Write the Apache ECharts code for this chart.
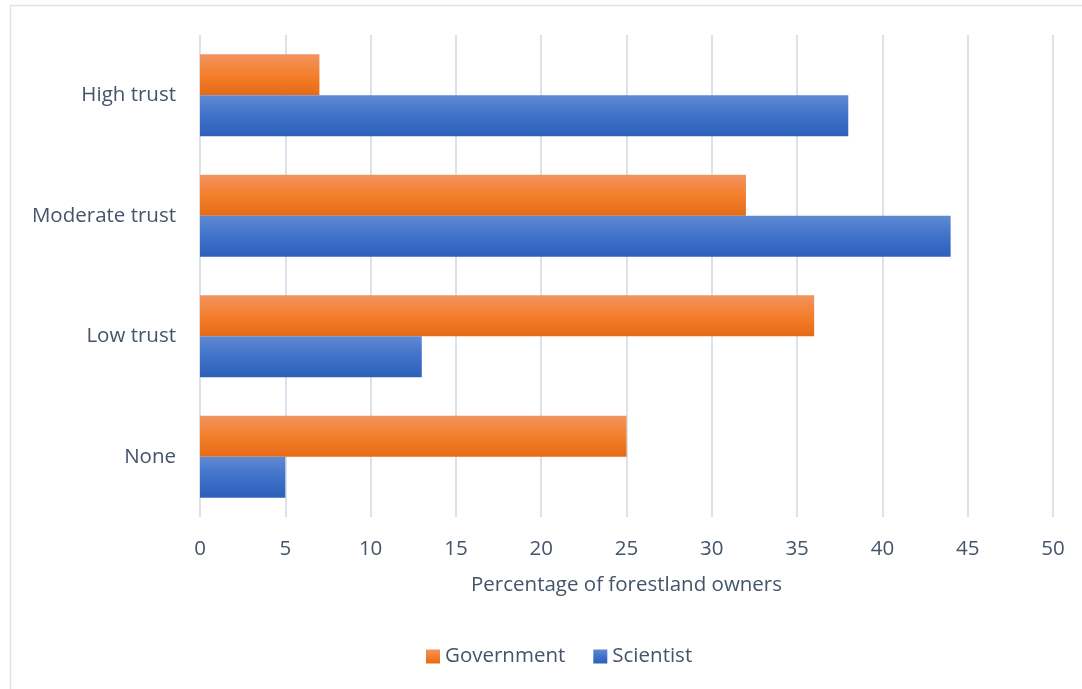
<!DOCTYPE html>
<html>
<head>
<meta charset="utf-8">
<script src="https://cdn.jsdelivr.net/npm/echarts@6/dist/echarts.min.js"></script>
<style>
  html, body { margin: 0; padding: 0; background: #fff; }
  #chart { width: 1082px; height: 689px; }
</style>
</head>
<body>
<div id="chart"></div>
<script>
// Trust levels shown on the category axis, top to bottom
const categories = ['High trust', 'Moderate trust', 'Low trust', 'None'];
// Percentage of forestland owners per trust level
const government = [7, 32, 36, 25];
const scientist = [38, 44, 13, 5];
const xTicks = { min: 0, max: 50, interval: 5 };

const textColor = '#44546A';
const font = '"Open Sans", sans-serif';
const fontSize = 20.5;

function grad(top, mid, bottom) {
  return new echarts.graphic.LinearGradient(0, 0, 0, 1, [
    { offset: 0, color: top },
    { offset: 0.5, color: mid },
    { offset: 1, color: bottom }
  ]);
}
const orange = grad('#F29360', '#F47F2C', '#E56A16');
const blue = grad('#6089D3', '#3F72C9', '#2C60B9');

const chart = echarts.init(document.getElementById('chart'), null, { renderer: 'canvas' });
chart.setOption({
  backgroundColor: '#fff',
  animation: false,
  graphic: [{
    type: 'rect',
    shape: { x: 10.5, y: 5.5, width: 1200, height: 800 },
    style: { fill: 'none', stroke: '#DCE1EA', lineWidth: 1.5 },
    z: -1
  }],
  grid: { left: 200, right: 29, top: 35, bottom: 172, containLabel: false },
  legend: {
    bottom: 17,
    left: 421,
    itemWidth: 14,
    itemHeight: 14,
    itemGap: 28,
    icon: 'rect',
    textStyle: { color: textColor, fontSize: fontSize, fontFamily: font },
    data: ['Government', 'Scientist']
  },
  xAxis: {
    type: 'value',
    min: xTicks.min,
    max: xTicks.max,
    interval: xTicks.interval,
    name: 'Percentage of forestland owners',
    nameLocation: 'middle',
    nameGap: 58,
    nameTextStyle: { color: textColor, fontSize: fontSize, fontFamily: font },
    axisLine: { show: false },
    axisTick: { show: false },
    axisLabel: { color: textColor, fontSize: fontSize, fontFamily: font, margin: 22 },
    splitLine: { show: true, lineStyle: { color: '#DDE1E9', width: 2 } }
  },
  yAxis: {
    type: 'category',
    data: categories,
    inverse: true,
    axisLine: { show: false },
    axisTick: { show: false },
    axisLabel: { color: textColor, fontSize: fontSize, fontFamily: font, margin: 24, padding: [4, 0, 0, 0] },
    splitLine: { show: false }
  },
  series: [
    {
      name: 'Government',
      type: 'bar',
      data: government,
      itemStyle: { color: orange },
      barGap: '0%',
      barCategoryGap: '32%'
    },
    {
      name: 'Scientist',
      type: 'bar',
      data: scientist,
      itemStyle: { color: blue },
      barGap: '0%',
      barCategoryGap: '32%'
    }
  ]
});
</script>
</body>
</html>
